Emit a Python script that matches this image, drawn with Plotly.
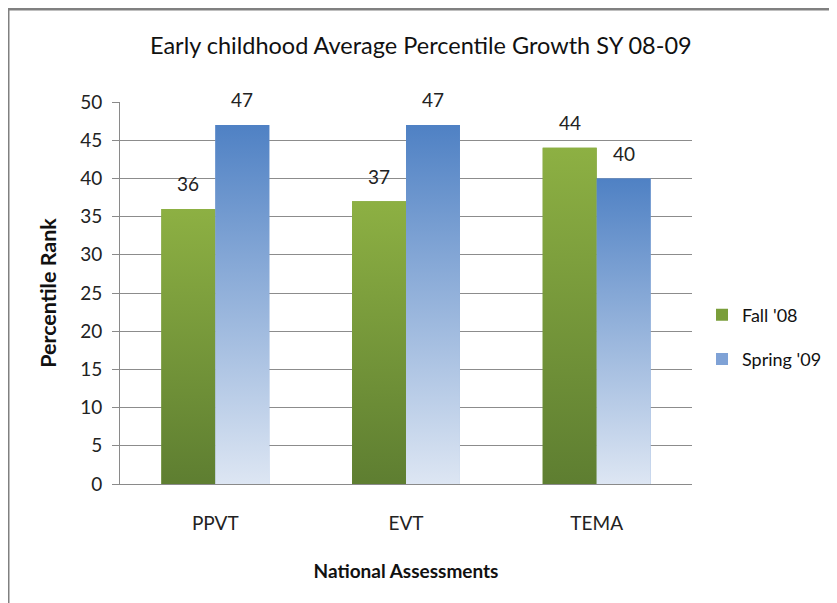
import plotly.graph_objects as go

categories = ["PPVT", "EVT", "TEMA"]
fall_08 = [36, 37, 44]
spring_09 = [47, 47, 40]
series_names = ["Fall '08", "Spring '09"]
y_ticks = [0, 5, 10, 15, 20, 25, 30, 35, 40, 45, 50]

FONT = "Lato"
green_top, green_bot = "#8DB043", "#5E7E31"
blue_top, blue_bot = "#4F81C4", "#DDE6F3"

bar_w = 0.283
xs = list(range(len(categories)))

fig = go.Figure()

series = [
    (series_names[0], fall_08, -bar_w, green_top, green_bot, "#7A9E3A"),
    (series_names[1], spring_09, 0.0, blue_top, blue_bot, "#7FA2D6"),
]

for gi, (name, vals, off, ctop, cbot, solid) in enumerate(series):
    fig.add_trace(go.Bar(
        x=xs, y=vals, name=name, width=bar_w, offset=off,
        marker=dict(color=solid, line=dict(width=0)),
        legendgroup=name,
    ))
for gi, (name, vals, off, ctop, cbot, solid) in enumerate(series):
    for xi, v in zip(xs, vals):
        x0 = xi + off
        x1 = x0 + bar_w
        fig.add_trace(go.Scatter(
            x=[x0, x0, x1, x1, x0], y=[0, v, v, 0, 0],
            mode="lines", line=dict(width=0), fill="toself",
            fillgradient=dict(type="vertical", colorscale=[[0, cbot], [1, ctop]]),
            showlegend=False, hoverinfo="skip",
        ))
        fig.add_annotation(
            x=x0 + bar_w / 2, y=v, text=str(v), showarrow=False,
            yanchor="middle", yshift=25,
            font=dict(family=FONT, size=19, color="#222222"),
        )

# outer frame (plot area: 572 x 382 px)
fig.add_shape(type="rect", xref="paper", yref="paper",
              x0=-0.1958, x1=1.30, y0=-0.36, y1=1.2435,
              line=dict(color="#808080", width=3), layer="below")

fig.update_layout(
    width=829, height=595,
    margin=dict(l=112, r=145, t=94, b=119, autoexpand=False),
    paper_bgcolor="white", plot_bgcolor="white",
    title=dict(text="Early childhood Average Percentile Growth SY 08-09",
               x=0.498, xanchor="center", y=0.936, yanchor="middle",
               font=dict(family=FONT, size=23.5, color="#111111")),
    font=dict(family=FONT, color="#222222"),
    barmode="overlay",
    showlegend=True,
    legend=dict(x=1.0175, y=0.385, xanchor="left", yanchor="middle",
                font=dict(family=FONT, size=18, color="#111111"),
                tracegroupgap=18, bgcolor="rgba(0,0,0,0)"),
    xaxis=dict(
        range=[-0.5, 2.5], tickmode="array", tickvals=xs, ticktext=categories,
        showgrid=False, zeroline=False, showline=True, linecolor="#8A8A8A",
        linewidth=1, ticks="", tickfont=dict(family=FONT, size=19, color="#222222"),
        ticklabelstandoff=22, automargin=False,
        title=dict(text="<b>National Assessments</b>", standoff=31,
                   font=dict(family=FONT, size=19, color="#111111")),
    ),
    yaxis=dict(
        range=[0, 50], tickmode="array", tickvals=y_ticks,
        showgrid=True, gridcolor="#8C8C8C", gridwidth=1,
        zeroline=False, showline=True, linecolor="#8A8A8A", linewidth=1,
        ticks="outside", ticklen=7, tickcolor="#8A8A8A",
        tickfont=dict(family=FONT, size=19, color="#222222"),
        ticklabelstandoff=6, automargin=False,
        title=dict(text="<b>Percentile Rank</b>", standoff=17,
                   font=dict(family=FONT, size=21.5, color="#111111")),
    ),
)

fig.write_html("out.html")
